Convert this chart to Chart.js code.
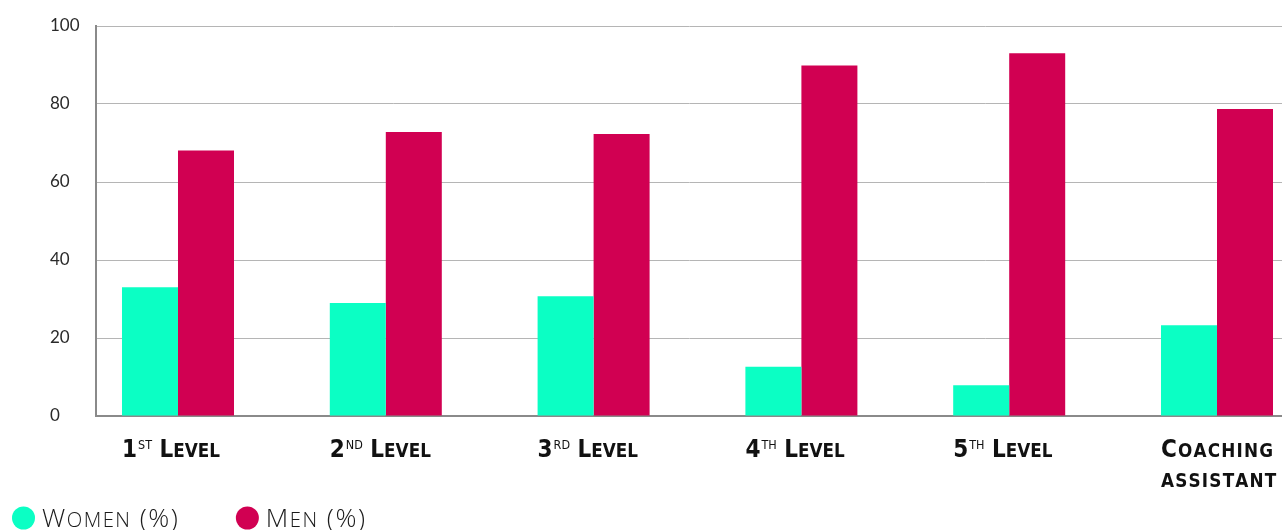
<!DOCTYPE html>
<html>
<head>
<meta charset="utf-8">
<script src="https://cdn.jsdelivr.net/npm/chart.js@4.4.1/dist/chart.umd.min.js"></script>
<style>
  html, body { margin: 0; padding: 0; background: #fff; overflow: hidden; }
  #wrap { width: 1282px; height: 530px; position: relative; }
</style>
</head>
<body>
<div id="wrap"><canvas id="canvas"></canvas></div>
<script>
// data
const categories = ['1st Level', '2nd Level', '3rd Level', '4th Level', '5th Level', ['Coaching', 'assistant']];
const women = [33.0, 29.0, 30.7, 12.6, 7.9, 23.3];
const men = [68.1, 72.8, 72.3, 89.9, 93.0, 78.7];
const yTicks = [0, 20, 40, 60, 80, 100];

const WOMEN_COLOR = '#0bffc4';
const MEN_COLOR = '#d10052';
const LABEL_FONT = "'Liberation Sans Narrow', 'DejaVu Sans Condensed', sans-serif";
const LEGEND_FONT = "'Open Sans', 'Noto Sans', sans-serif";

// fake small caps: lower case letters drawn as smaller capitals
function drawCaps(ctx, text, x, y, size, weight, family, tracking) {
  let cx = x;
  tracking = tracking || 0;
  for (const ch of text) {
    const lower = ch !== ch.toUpperCase();
    ctx.font = weight + ' ' + (lower ? size * 0.78 : size) + 'px ' + family;
    const c = ch.toUpperCase();
    ctx.fillText(c, cx, y);
    cx += ctx.measureText(c).width + tracking;
  }
  return cx - x - tracking;
}

const labelPlugin = {
  id: 'catLabels',
  afterDraw(chart) {
    const ctx = chart.ctx;
    const bars = chart.getDatasetMeta(0).data;
    const base = chart.chartArea.bottom + 41;
    ctx.save();
    ctx.fillStyle = '#111';
    ctx.textAlign = 'left';
    ctx.textBaseline = 'alphabetic';
    const size = 24;
    categories.forEach(function(cat, i) {
      const x0 = bars[i].x - bars[i].width / 2;
      const lines = Array.isArray(cat) ? cat : [cat];
      lines.forEach(function(line, j) {
        const y = base + j * 30;
        const m = line.match(/^(\d)(st|nd|rd|th)(.*)$/);
        if (m) {
          let x = x0;
          x += drawCaps(ctx, m[1], x, y, size, 'bold', LABEL_FONT) + 1;
          ctx.font = 'normal ' + (size * 0.52) + 'px ' + LABEL_FONT;
          ctx.fillText(m[2].toUpperCase(), x, y - size * 0.34);
          x += ctx.measureText(m[2].toUpperCase()).width;
          drawCaps(ctx, m[3], x, y, size, 'bold', LABEL_FONT);
        } else {
          drawCaps(ctx, line, x0, y, size, 'bold', LABEL_FONT, 1.2);
        }
      });
    });

    // legend
    const ly = chart.height - 3;
    let lx = 12;
    chart.data.datasets.forEach(function(ds) {
      ctx.fillStyle = ds.backgroundColor;
      ctx.beginPath();
      ctx.arc(lx + 11.5, ly - 9, 11.5, 0, Math.PI * 2);
      ctx.fill();
      ctx.fillStyle = '#1a1a1a';
      const w = drawCaps(ctx, ds.label, lx + 30, ly, 26, '300', LEGEND_FONT, 1.5);
      lx += 30 + w + 58;
    });
    ctx.restore();
  }
};

const ctx = document.getElementById('canvas').getContext('2d');
const chart = new Chart(ctx, {
  type: 'bar',
  data: {
    datasets: [
      {
        label: 'Women (%)',
        data: women.map(function(v, i) { return { x: i, y: v }; }),
        backgroundColor: WOMEN_COLOR,
        borderWidth: 0
      },
      {
        label: 'Men (%)',
        data: men.map(function(v, i) { return { x: i, y: v }; }),
        backgroundColor: MEN_COLOR,
        borderWidth: 0
      }
    ]
  },
  plugins: [labelPlugin],
  options: {
    responsive: true,
    maintainAspectRatio: false,
    animation: false,
    layout: { padding: { left: 50, top: 26, right: 0, bottom: 0 } },
    datasets: {
      bar: { categoryPercentage: 0.539, barPercentage: 1.0 }
    },
    plugins: {
      legend: { display: false },
      tooltip: { enabled: false }
    },
    scales: {
      x: {
        type: 'linear',
        offset: false,
        min: -0.3946,
        max: 5.3128,
        ticks: { display: false, stepSize: 1, includeBounds: false },
        grid: { display: false, offset: false },
        border: { display: true, color: '#8a8a8a', width: 2 },
        afterFit: function(s) { s.height = 114; }
      },
      y: {
        min: 0,
        max: 100,
        afterBuildTicks: function(s) { s.ticks = yTicks.map(function(v) { return { value: v }; }); },
        ticks: {
          crossAlign: 'far',
          color: '#2a2a2a',
          font: { family: "Lato, 'Noto Sans', sans-serif", size: 17 }
        },
        grid: { color: '#b5b5b5', lineWidth: 1, drawTicks: false },
        border: { display: true, color: '#8a8a8a', width: 2 },
        afterFit: function(s) { s.width = 46; }
      }
    }
  }
});
</script>
</body>
</html>
